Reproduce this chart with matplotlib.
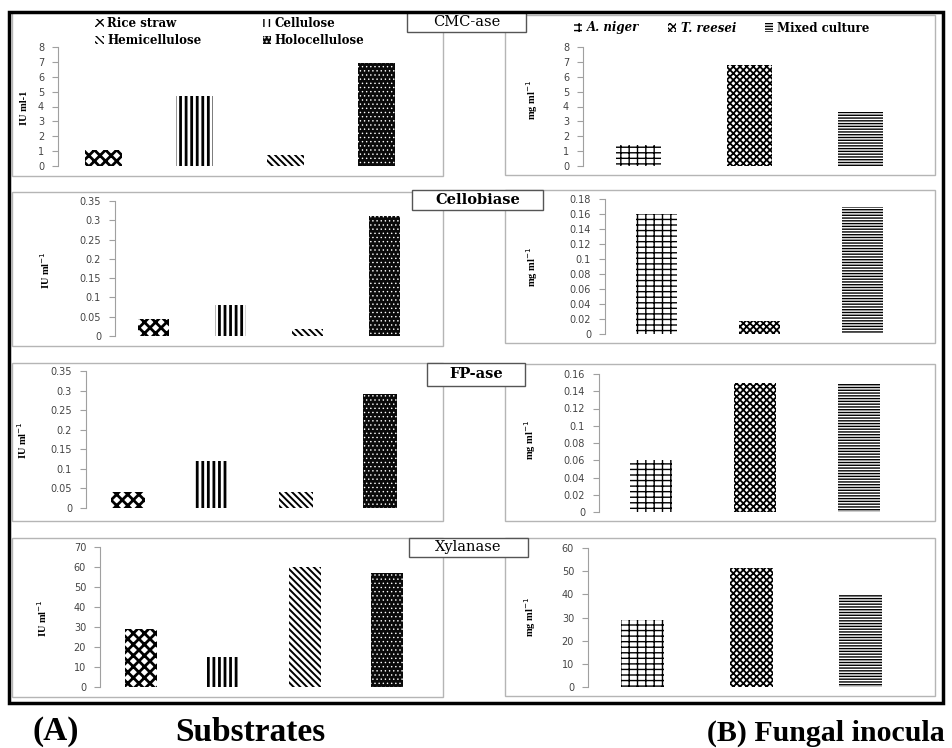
import numpy as np
import matplotlib
matplotlib.use('Agg')
import matplotlib.pyplot as plt
from matplotlib.patches import Rectangle, Patch
from matplotlib.ticker import FuncFormatter

# data
substrates = ['Rice straw', 'Cellulose', 'Hemicellulose', 'Holocellulose']
fungi = ['A. niger', 'T. reesei', 'Mixed culture']
enzymes = ['CMC-ase', 'Cellobiase', 'FP-ase', 'Xylanase']

cmc_sub = [1.1, 4.7, 0.75, 6.9]
cello_sub = [0.045, 0.08, 0.018, 0.31]
fp_sub = [0.04, 0.12, 0.04, 0.29]
xyl_sub = [29, 15, 60, 57]

cmc_fun = [1.4, 6.8, 3.6]
cello_fun = [0.16, 0.018, 0.17]
fp_fun = [0.06, 0.15, 0.15]
xyl_fun = [29, 51.5, 40]

sub_ticks = [np.arange(0, 8.1, 1), np.arange(0, 0.351, 0.05),
             np.arange(0, 0.351, 0.05), np.arange(0, 70.1, 10)]
fun_ticks = [np.arange(0, 8.1, 1), np.arange(0, 0.181, 0.02),
             np.arange(0, 0.161, 0.02), np.arange(0, 60.1, 10)]

W, H = 953, 748
fig = plt.figure(figsize=(W / 100, H / 100), dpi=100)

def fx(x):
    return x / W

def fy(y):
    return 1 - y / H

serif = 'Liberation Serif'
wide_serif = 'DejaVu Serif'

# hatch styles (pattern, colour, face, hatch lw)
sub_style = [('xxx', 'black', 'white', 2.0),
             ('|||', 'black', 'white', 2.0),
             ('\\\\\\\\\\', 'black', 'white', 1.4),
             ('....', 'white', '#0a0a0a', 0.5)]
fun_style = [('||---', 'black', 'white', 1.0),
             ('xxxxx', 'black', 'white', 1.3),
             ('------', 'black', 'white', 1.0)]

# pixel layout: (x axis start, spacing, y of zero, y of top)
sub_layout = [(58, 91, 166, 47), (115, 77, 336, 201),
              (86, 84, 508, 371), (100, 82, 687, 547)]
fun_layout = [(583, 111, 166, 47), (605, 103, 334, 199),
              (599, 104, 512, 374), (588, 109, 687, 548)]

# panel frames (x0, y0, x1, y1)
left_frames = [(12, 12, 443, 176), (12, 192, 443, 346), (12, 363, 443, 521), (12, 538, 443, 697)]
right_frames = [(505, 15, 935, 175), (505, 190, 935, 343), (505, 364, 935, 521), (505, 538, 935, 696)]
title_boxes = [(407, 12, 526, 32), (412, 190, 543, 210), (427, 363, 525, 386), (409, 538, 528, 557)]
title_bold = [False, True, True, False]

sub_ylab = [(25, 108), (45, 270), (22, 440), (42, 618)]
fun_ylab = [(532, 100), (532, 267), (530, 440), (530, 617)]

for (x0, y0, x1, y1) in left_frames + right_frames:
    fig.patches.append(Rectangle((fx(x0), fy(y1)), fx(x1 - x0), (y1 - y0) / H,
                                 transform=fig.transFigure, fill=False,
                                 edgecolor='#b5b5b5', lw=1.0))

# outer frame
fig.patches.append(Rectangle((fx(9), fy(703)), fx(934), 691 / H, transform=fig.transFigure,
                             fill=False, edgecolor='black', lw=2.5, zorder=5))

fmt = FuncFormatter(lambda v, p: '{:g}'.format(round(v, 3)))

def make_panel(layout, vals, ticks, styles, ylab, ylab_pos):
    x0, sp, yz, yt = layout
    n = len(vals)
    ax = fig.add_axes([fx(x0), fy(yz), fx(sp * n), (yz - yt) / H])
    bars = ax.bar(np.arange(n), vals, width=0.4)
    for b, (h, ec, fc, hl) in zip(bars, styles):
        b.set_hatch(h)
        b.set_facecolor(fc)
        b.set_edgecolor(ec)
        b.set_linewidth(0)
        if hasattr(b, 'set_hatch_linewidth'):
            b.set_hatch_linewidth(hl)
    ax.set_xlim(-0.5, n - 0.5)
    ax.set_ylim(0, ticks[-1])
    ax.set_yticks(ticks)
    ax.yaxis.set_major_formatter(fmt)
    ax.set_xticks([])
    for s in ['top', 'right', 'bottom']:
        ax.spines[s].set_visible(False)
    ax.spines['left'].set_color('#a0a0a0')
    ax.spines['left'].set_linewidth(0.8)
    ax.tick_params(axis='y', length=4, width=0.8, color='#a0a0a0',
                   labelsize=7, labelcolor='#444444', pad=6)
    ax.patch.set_alpha(0)
    fig.text(fx(ylab_pos[0]), fy(ylab_pos[1]), ylab, rotation=90, ha='center', va='center',
             family=serif, weight='bold', fontsize=7.5)
    return ax

sub_vals = [cmc_sub, cello_sub, fp_sub, xyl_sub]
fun_vals = [cmc_fun, cello_fun, fp_fun, xyl_fun]
for i in range(4):
    lab = 'IU ml-1' if i == 0 else 'IU ml$^{-1}$'
    make_panel(sub_layout[i], sub_vals[i], sub_ticks[i], sub_style, lab, sub_ylab[i])
    make_panel(fun_layout[i], fun_vals[i], fun_ticks[i], fun_style, 'mg ml$^{-1}$', fun_ylab[i])

for (x0, y0, x1, y1), name, bold in zip(title_boxes, enzymes, title_bold):
    fig.patches.append(Rectangle((fx(x0), fy(y1)), fx(x1 - x0), (y1 - y0) / H,
                                 transform=fig.transFigure, facecolor='white',
                                 edgecolor='#555555', lw=1.0, zorder=3))
    fig.text(fx((x0 + x1) / 2), fy((y0 + y1) / 2), name, ha='center', va='center',
             family=wide_serif, weight='bold' if bold else 'normal', fontsize=10.5, zorder=4)

def legend_handles(names, styles):
    hs = []
    for name, (h, ec, fc, hl) in zip(names, styles):
        hs.append(Patch(facecolor=fc, edgecolor=ec, hatch=h, lw=0, label=name))
    return hs

# legend fills column by column, so reorder to get rows as in the reference
sub_h = legend_handles(substrates, sub_style)
sub_h = [sub_h[0], sub_h[2], sub_h[1], sub_h[3]]
leg1 = fig.legend(handles=sub_h, ncol=2, loc='center',
                  bbox_to_anchor=(fx(230), fy(32)), frameon=False, handlelength=0.7,
                  handleheight=0.7, handletextpad=0.3, columnspacing=5.2, labelspacing=0.3,
                  prop={'family': wide_serif, 'weight': 'bold', 'size': 8.5})
leg2 = fig.legend(handles=legend_handles(fungi, fun_style), ncol=3, loc='center',
                  bbox_to_anchor=(fx(722), fy(28)), frameon=False, handlelength=0.7,
                  handleheight=0.7, handletextpad=0.4, columnspacing=2.4,
                  prop={'family': wide_serif, 'weight': 'bold', 'size': 8.5})
for t in leg2.get_texts()[:2]:
    t.set_style('italic')

fig.text(fx(33), fy(740), '(A)', family=serif, weight='bold', fontsize=24, va='baseline')
fig.text(fx(175), fy(741), 'Substrates', family=serif, weight='bold', fontsize=24, va='baseline')
fig.text(fx(945), fy(741), '(B) Fungal inocula', family=serif, weight='bold', fontsize=21.5,
         va='baseline', ha='right')

plt.savefig('out.png', dpi=100)
